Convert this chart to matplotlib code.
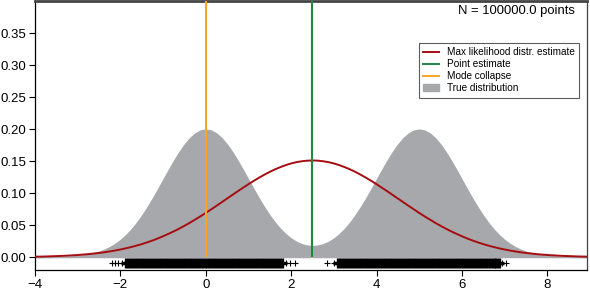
import matplotlib
matplotlib.use("Agg")
import matplotlib.pyplot as plt
from matplotlib.patches import Patch
from matplotlib.lines import Line2D

plt.rcParams['font.family'] = ['Liberation Sans', 'DejaVu Sans']

# grid of x positions for the curves
x = [-4.0, -3.875, -3.75, -3.625, -3.5, -3.375, -3.25, -3.125, -3.0, -2.875,
     -2.75, -2.625, -2.5, -2.375, -2.25, -2.125, -2.0, -1.875, -1.75, -1.625,
     -1.5, -1.375, -1.25, -1.125, -1.0, -0.875, -0.75, -0.625, -0.5, -0.375,
     -0.25, -0.125, 0.0, 0.125, 0.25, 0.375, 0.5, 0.625, 0.75, 0.875, 1.0,
     1.125, 1.25, 1.375, 1.5, 1.625, 1.75, 1.875, 2.0, 2.125, 2.25, 2.375, 2.5,
     2.625, 2.75, 2.875, 3.0, 3.125, 3.25, 3.375, 3.5, 3.625, 3.75, 3.875, 4.0,
     4.125, 4.25, 4.375, 4.5, 4.625, 4.75, 4.875, 5.0, 5.125, 5.25, 5.375, 5.5,
     5.625, 5.75, 5.875, 6.0, 6.125, 6.25, 6.375, 6.5, 6.625, 6.75, 6.875, 7.0,
     7.125, 7.25, 7.375, 7.5, 7.625, 7.75, 7.875, 8.0, 8.125, 8.25, 8.375, 8.5,
     8.625, 8.75, 8.875, 9.0]

# true (bimodal) distribution density
true_density = [0.00007, 0.00011, 0.00018, 0.00028, 0.00044, 0.00067, 0.00102,
                0.00151, 0.00222, 0.00320, 0.00455, 0.00637, 0.00877, 0.01188,
                0.01587, 0.02087, 0.02700, 0.03440, 0.04314, 0.05327, 0.06476,
                0.07751, 0.09133, 0.10594, 0.12099, 0.13603, 0.15057, 0.16408,
                0.17604, 0.18593, 0.19334, 0.19792, 0.19947, 0.19792, 0.19334,
                0.18593, 0.17605, 0.16410, 0.15060, 0.13607, 0.12106, 0.10605,
                0.09150, 0.07779, 0.06520, 0.05394, 0.04416, 0.03591, 0.02922,
                0.02407, 0.02042, 0.01825, 0.01753, 0.01825, 0.02042, 0.02407,
                0.02922, 0.03591, 0.04416, 0.05394, 0.06520, 0.07779, 0.09150,
                0.10605, 0.12106, 0.13607, 0.15060, 0.16410, 0.17605, 0.18593,
                0.19334, 0.19792, 0.19947, 0.19792, 0.19334, 0.18593, 0.17604,
                0.16408, 0.15057, 0.13603, 0.12099, 0.10594, 0.09133, 0.07751,
                0.06476, 0.05327, 0.04314, 0.03440, 0.02700, 0.02087, 0.01587,
                0.01188, 0.00877, 0.00637, 0.00455, 0.00320, 0.00222, 0.00151,
                0.00102, 0.00067, 0.00044, 0.00028, 0.00018, 0.00011, 0.00007]

# max likelihood estimate curve
ml_density = [0.0008, 0.0009, 0.0011, 0.0014, 0.0017, 0.0020, 0.0024, 0.0029,
              0.0034, 0.0041, 0.0048, 0.0057, 0.0066, 0.0077, 0.0090, 0.0104,
              0.0120, 0.0138, 0.0158, 0.0180, 0.0204, 0.0231, 0.0260, 0.0292,
              0.0327, 0.0364, 0.0403, 0.0445, 0.0490, 0.0537, 0.0587, 0.0638,
              0.0691, 0.0746, 0.0802, 0.0859, 0.0916, 0.0973, 0.1030, 0.1085,
              0.1140, 0.1192, 0.1242, 0.1289, 0.1333, 0.1372, 0.1407, 0.1438,
              0.1464, 0.1484, 0.1498, 0.1507, 0.1510, 0.1507, 0.1498, 0.1484,
              0.1464, 0.1438, 0.1407, 0.1372, 0.1333, 0.1289, 0.1242, 0.1192,
              0.1140, 0.1085, 0.1030, 0.0973, 0.0916, 0.0859, 0.0802, 0.0746,
              0.0691, 0.0638, 0.0587, 0.0537, 0.0490, 0.0445, 0.0403, 0.0364,
              0.0327, 0.0292, 0.0260, 0.0231, 0.0204, 0.0180, 0.0158, 0.0138,
              0.0120, 0.0104, 0.0090, 0.0077, 0.0066, 0.0057, 0.0048, 0.0041,
              0.0034, 0.0029, 0.0024, 0.0020, 0.0017, 0.0014, 0.0011, 0.0009,
              0.0008]

point_estimate = 2.5
mode_collapse = 0.0

# samples (shown as + markers below the curves): dense cores and sparse tails
samples_core = [-1.86, -1.79, -1.72, -1.65, -1.58, -1.51, -1.44, -1.37, -1.3,
                -1.23, -1.16, -1.09, -1.02, -0.95, -0.88, -0.81, -0.74, -0.67,
                -0.6, -0.53, -0.46, -0.39, -0.32, -0.25, -0.18, -0.11, -0.04,
                0.03, 0.1, 0.17, 0.24, 0.31, 0.38, 0.45, 0.52, 0.59, 0.66, 0.73,
                0.8, 0.87, 0.94, 1.01, 1.08, 1.15, 1.22, 1.29, 1.36, 1.43, 1.5,
                1.57, 1.64, 1.71, 1.78,
                3.1, 3.17, 3.24, 3.31, 3.38, 3.45, 3.52, 3.59, 3.66, 3.73, 3.8,
                3.87, 3.94, 4.01, 4.08, 4.15, 4.22, 4.29, 4.36, 4.43, 4.5, 4.57,
                4.64, 4.71, 4.78, 4.85, 4.92, 4.99, 5.06, 5.13, 5.2, 5.27, 5.34,
                5.41, 5.48, 5.55, 5.62, 5.69, 5.76, 5.83, 5.9, 5.97, 6.04, 6.11,
                6.18, 6.25, 6.32, 6.39, 6.46, 6.53, 6.6, 6.67, 6.74, 6.81, 6.87]
samples_tail = [-2.2, -2.13, -2.05, -1.96, 1.87, 1.97, 2.1, 2.84, 3.0, 6.93, 7.03]
sample_y = -0.009

n_points_label = "N = 100000.0 points"

fig = plt.figure(figsize=(5.9, 2.91), dpi=100)
ax = fig.add_axes([35 / 590, 21 / 291, 552 / 590, 269 / 291])

gray = '#a7a8ab'
red = '#a50d12'
green = '#1b8a3e'
orange = '#f7a623'

ax.fill_between(x, 0, true_density, color=gray, linewidth=0.8, edgecolor=gray,
                zorder=1)
ax.plot(x, ml_density, color=red, linewidth=1.4, zorder=3)
ax.vlines([point_estimate], 0, 0.40, color=green, linewidth=1.5, zorder=4)
ax.vlines([mode_collapse], 0, 0.40, color=orange, linewidth=1.5, zorder=4)

ax.plot(samples_core, [sample_y] * len(samples_core), '+', color='black',
        markersize=6.5, markeredgewidth=2.4, zorder=5, clip_on=False)
ax.plot(samples_tail, [sample_y] * len(samples_tail), '+', color='black',
        markersize=5.0, markeredgewidth=0.8, zorder=5, clip_on=False)

ax.set_xlim(-4, 8.93)
ax.set_ylim(-0.02, 0.40)
ax.set_xticks([-4, -2, 0, 2, 4, 6, 8])
ax.set_xticklabels(['\u22124', '\u22122', '0', '2', '4', '6', '8'])
yt = [0.0, 0.05, 0.10, 0.15, 0.20, 0.25, 0.30, 0.35]
ax.set_yticks(yt)
ax.set_yticklabels([f"{v:.2f}" for v in yt])
ax.tick_params(axis='both', direction='out', length=4, width=0.8,
               labelsize=9.5, colors='black', pad=2.5)

for s in ['left', 'bottom']:
    ax.spines[s].set_color('black')
    ax.spines[s].set_linewidth(0.9)
ax.spines['top'].set_color('#444444')
ax.spines['top'].set_linewidth(2.0)
ax.spines['right'].set_color('#444444')
ax.spines['right'].set_linewidth(0.9)

ax.text(0.978, 0.985, n_points_label, transform=ax.transAxes, ha='right',
        va='top', fontsize=9.4)

handles = [Line2D([], [], color=red, linewidth=1.4),
           Line2D([], [], color=green, linewidth=1.4),
           Line2D([], [], color=orange, linewidth=1.4),
           Patch(facecolor=gray, edgecolor=gray)]
labels = ['Max likelihood distr. estimate', 'Point estimate', 'Mode collapse',
          'True distribution']
leg = ax.legend(handles, labels, loc='upper right', bbox_to_anchor=(0.986, 0.845),
                fontsize=7.2, frameon=True, fancybox=False, edgecolor='#333333',
                handlelength=1.6, handleheight=0.6, labelspacing=0.2,
                borderpad=0.45, handletextpad=0.75, borderaxespad=0)
leg.get_frame().set_linewidth(0.8)

fig.savefig('out.png', dpi=100)
